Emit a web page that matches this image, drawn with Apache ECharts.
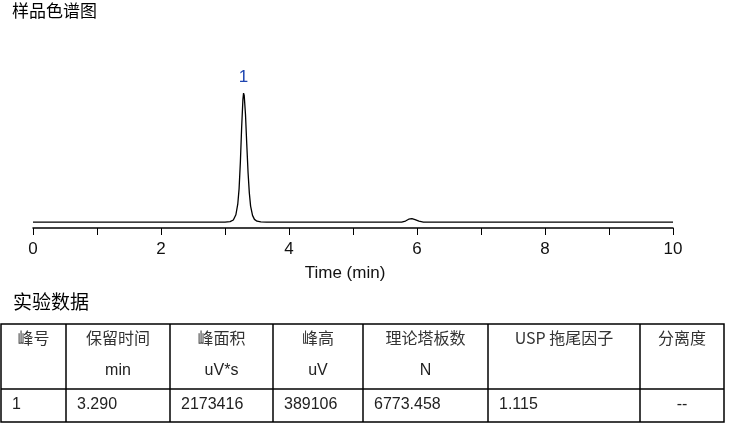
<!DOCTYPE html>
<html>
<head>
<meta charset="utf-8">
<script src="https://cdn.jsdelivr.net/npm/echarts@6/dist/echarts.min.js"></script>
<style>
html,body{margin:0;padding:0;background:#fff;}
#chart{width:746px;height:426px;}
</style>
</head>
<body>
<div id="chart"></div>
<script>
// ---- data ----
var chartTitle = '样品色谱图';
var tableTitle = '实验数据';
var axisName = 'Time (min)';
var peakLabel = '1';
var times  = [0, 1.00, 2.00, 3.00, 3.08, 3.13, 3.17, 3.20, 3.22, 3.24, 3.26, 3.28, 3.29, 3.30, 3.32, 3.34, 3.36, 3.38, 3.40, 3.43, 3.46, 3.50, 3.56, 3.65, 4.5, 5.5, 5.76, 5.82, 5.87, 5.92, 5.97, 6.03, 6.10, 7, 8, 9, 10];
var signal = [0, 0, 0, 0, 1000, 6000, 22000, 55000, 100000, 180000, 285000, 370000, 389106, 382000, 325000, 235000, 150000, 88000, 48000, 20000, 8000, 2500, 600, 0, 0, 0, 0, 3000, 8500, 10000, 7000, 2500, 0, 0, 0, 0, 0];
var peakTime = 3.290;
var peakHeight = 389106;
var tableHeaders = ['峰号', '保留时间', '峰面积', '峰高', '理论塔板数', 'USP 拖尾因子', '分离度'];
var tableUnits   = ['', 'min', 'uV*s', 'uV', 'N', '', ''];
var tableRow     = ['1', '3.290', '2173416', '389106', '6773.458', '1.115', '--'];

// ---- layout ----
var colEdges = [1, 66, 170, 273, 363, 488, 640, 724];
var rowTop = 324, rowMid = 389, rowBottom = 422;
var cjk = '"Noto Sans CJK SC", "Liberation Sans", sans-serif';
var latin = '"Liberation Sans", Arial, sans-serif';

var chart = echarts.init(document.getElementById('chart'));

var lineData = times.map(function (t, i) { return [t, signal[i]]; });

var graphics = [];
graphics.push({
  type: 'text', left: 12, top: 2,
  style: { text: chartTitle, font: '17px ' + cjk, fill: '#000' }
});
graphics.push({
  type: 'text', left: 13, top: 292,
  style: { text: tableTitle, font: '19px ' + cjk, fill: '#000' }
});
// table borders
graphics.push({
  type: 'rect', shape: { x: colEdges[0], y: rowTop, width: colEdges[colEdges.length - 1] - colEdges[0], height: rowBottom - rowTop },
  style: { fill: 'none', stroke: '#000', lineWidth: 1.5 }
});
graphics.push({
  type: 'line', shape: { x1: colEdges[0], y1: rowMid, x2: colEdges[colEdges.length - 1], y2: rowMid },
  style: { stroke: '#000', lineWidth: 1.5 }
});
for (var c = 1; c < colEdges.length - 1; c++) {
  graphics.push({
    type: 'line', shape: { x1: colEdges[c], y1: rowTop, x2: colEdges[c], y2: rowBottom },
    style: { stroke: '#000', lineWidth: 1.5 }
  });
}
for (var k = 0; k < tableHeaders.length; k++) {
  var cx = (colEdges[k] + colEdges[k + 1]) / 2;
  graphics.push({
    type: 'text', x: cx, y: 338,
    style: { text: tableHeaders[k], font: '16px ' + cjk, fill: '#333', align: 'center', verticalAlign: 'middle' }
  });
  if (tableUnits[k]) {
    graphics.push({
      type: 'text', x: cx, y: 371,
      style: { text: tableUnits[k], font: '16px ' + latin, fill: '#222', align: 'center', verticalAlign: 'middle' }
    });
  }
  var isLast = (k === tableHeaders.length - 1);
  graphics.push({
    type: 'text', x: isLast ? cx : colEdges[k] + 11, y: 405,
    style: { text: tableRow[k], font: '16px ' + latin, fill: '#222', align: isLast ? 'center' : 'left', verticalAlign: 'middle' }
  });
}

chart.setOption({
  animation: false,
  backgroundColor: '#fff',
  grid: { left: 33, right: 73, top: 79.5, bottom: 198 },
  xAxis: {
    type: 'value', min: 0, max: 10, interval: 1,
    name: axisName, nameLocation: 'middle', nameGap: 37,
    nameTextStyle: { fontFamily: latin, fontSize: 17, color: '#111', padding: [0, 16, 0, 0] },
    axisLine: { show: true, onZero: false, lineStyle: { color: '#000', width: 1.5 } },
    axisTick: { show: true, length: 7, lineStyle: { color: '#000', width: 1 } },
    axisLabel: {
      margin: 13, fontFamily: latin, fontSize: 17, color: '#111',
      formatter: function (v) { return (v % 2 === 0) ? String(v) : ''; }
    },
    splitLine: { show: false }
  },
  yAxis: {
    type: 'value', min: -18000, max: 430000, show: false,
    splitLine: { show: false }
  },
  series: [{
    type: 'line',
    data: lineData,
    showSymbol: false,
    symbol: 'none',
    lineStyle: { color: '#000', width: 1.3 },
    markPoint: {
      symbol: 'circle', symbolSize: 0,
      data: [{ coord: [peakTime, peakHeight], value: peakLabel }],
      label: { show: true, position: 'top', distance: 7, formatter: peakLabel, color: '#1f45b0', fontFamily: latin, fontSize: 17 }
    }
  }],
  graphic: graphics
});
</script>
</body>
</html>
